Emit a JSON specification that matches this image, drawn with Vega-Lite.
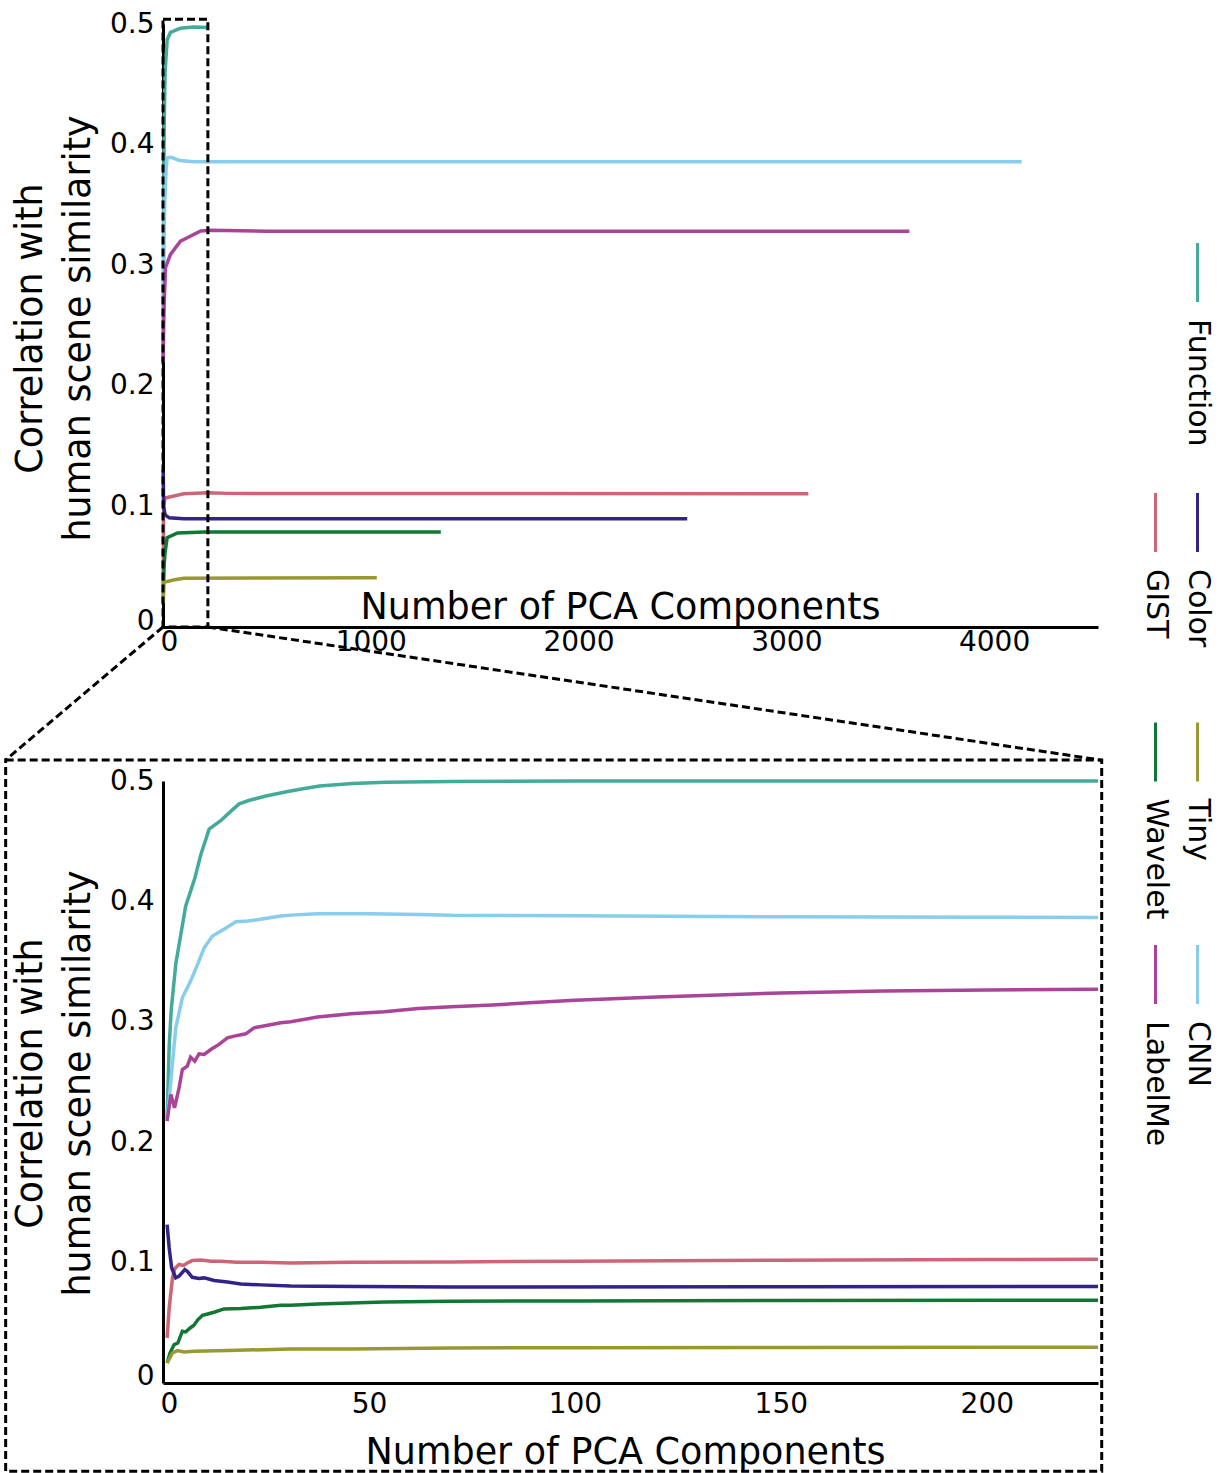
{
  "$schema": "https://vega.github.io/schema/vega-lite/v6.json",
  "autosize": {"type": "pad"},
  "padding": {"left": 4, "top": 10, "right": 12, "bottom": 0},
  "background": "white",
  "config": {
    "font": "DejaVu Sans",
    "view": {"stroke": null},
    "axis": {
      "domainColor": "black", "domainWidth": 3, "ticks": false, "grid": false,
      "labelFontSize": 28, "labelColor": "black", "labelFont": "DejaVu Sans",
      "labelFlush": false, "labelOverlap": false,
      "titleFontSize": 36.5, "titleFontWeight": "normal", "titleColor": "black", "titleFont": "DejaVu Sans"
    }
  },
  "datasets": {
    "top": [
      {"s":"Function","x":1,"y":0.22},{"s":"Function","x":3,"y":0.35},{"s":"Function","x":6,"y":0.42},{"s":"Function","x":10,"y":0.46},{"s":"Function","x":20,"y":0.487},{"s":"Function","x":36,"y":0.493},{"s":"Function","x":84,"y":0.4965},{"s":"Function","x":147,"y":0.4975},{"s":"Function","x":216,"y":0.497},
      {"s":"CNN","x":1,"y":0.22},{"s":"CNN","x":3,"y":0.30},{"s":"CNN","x":8,"y":0.35},{"s":"CNN","x":15,"y":0.38},{"s":"CNN","x":20,"y":0.389},{"s":"CNN","x":40,"y":0.3895},{"s":"CNN","x":80,"y":0.3868},{"s":"CNN","x":150,"y":0.3858},{"s":"CNN","x":4133,"y":0.3858},
      {"s":"LabelMe","x":1,"y":0.22},{"s":"LabelMe","x":3,"y":0.25},{"s":"LabelMe","x":6,"y":0.27},{"s":"LabelMe","x":12,"y":0.298},{"s":"LabelMe","x":36,"y":0.309},{"s":"LabelMe","x":84,"y":0.320},{"s":"LabelMe","x":117,"y":0.3228},{"s":"LabelMe","x":181,"y":0.3284},{"s":"LabelMe","x":229,"y":0.329},{"s":"LabelMe","x":500,"y":0.3282},{"s":"LabelMe","x":3592,"y":0.3281},
      {"s":"GIST","x":1,"y":0.035},{"s":"GIST","x":3,"y":0.1},{"s":"GIST","x":10,"y":0.107},{"s":"GIST","x":100,"y":0.1105},{"s":"GIST","x":215,"y":0.1114},{"s":"GIST","x":310,"y":0.1108},{"s":"GIST","x":3106,"y":0.1105},
      {"s":"Color","x":1,"y":0.13},{"s":"Color","x":3,"y":0.10},{"s":"Color","x":10,"y":0.093},{"s":"Color","x":30,"y":0.0905},{"s":"Color","x":100,"y":0.0898},{"s":"Color","x":2523,"y":0.0898},
      {"s":"Wavelet","x":1,"y":0.02},{"s":"Wavelet","x":5,"y":0.05},{"s":"Wavelet","x":10,"y":0.062},{"s":"Wavelet","x":20,"y":0.074},{"s":"Wavelet","x":70,"y":0.078},{"s":"Wavelet","x":200,"y":0.0788},{"s":"Wavelet","x":1337,"y":0.0788},
      {"s":"Tiny","x":1,"y":0.02},{"s":"Tiny","x":3,"y":0.037},{"s":"Tiny","x":50,"y":0.039},{"s":"Tiny","x":100,"y":0.0405},{"s":"Tiny","x":1029,"y":0.0409}
    ],
    "bottom": [
      {"s":"Function","x":1,"y":0.22},{"s":"Function","x":1.5,"y":0.28},{"s":"Function","x":2,"y":0.31},{"s":"Function","x":3.1,"y":0.348},{"s":"Function","x":5.5,"y":0.396},{"s":"Function","x":7.7,"y":0.419},{"s":"Function","x":9.2,"y":0.439},{"s":"Function","x":11.2,"y":0.46},{"s":"Function","x":14,"y":0.467},{"s":"Function","x":16.5,"y":0.475},{"s":"Function","x":18.5,"y":0.481},{"s":"Function","x":21,"y":0.484},{"s":"Function","x":25,"y":0.4875},{"s":"Function","x":30,"y":0.491},{"s":"Function","x":34,"y":0.4936},{"s":"Function","x":38,"y":0.4958},{"s":"Function","x":46,"y":0.498},{"s":"Function","x":54,"y":0.4989},{"s":"Function","x":70,"y":0.4996},{"s":"Function","x":100,"y":0.4999},{"s":"Function","x":150,"y":0.5},{"s":"Function","x":227,"y":0.5},
      {"s":"CNN","x":1,"y":0.2175},{"s":"CNN","x":1.9,"y":0.2507},{"s":"CNN","x":3.1,"y":0.295},{"s":"CNN","x":4.7,"y":0.32},{"s":"CNN","x":6.7,"y":0.3338},{"s":"CNN","x":8.4,"y":0.3477},{"s":"CNN","x":10,"y":0.3615},{"s":"CNN","x":12,"y":0.3712},{"s":"CNN","x":14.8,"y":0.3768},{"s":"CNN","x":17.7,"y":0.3831},{"s":"CNN","x":20.5,"y":0.3837},{"s":"CNN","x":23.7,"y":0.3851},{"s":"CNN","x":28.6,"y":0.3878},{"s":"CNN","x":31,"y":0.3886},{"s":"CNN","x":37.5,"y":0.3897},{"s":"CNN","x":50,"y":0.3897},{"s":"CNN","x":62,"y":0.3892},{"s":"CNN","x":70,"y":0.3884},{"s":"CNN","x":100,"y":0.388},{"s":"CNN","x":150,"y":0.3872},{"s":"CNN","x":200,"y":0.3868},{"s":"CNN","x":227,"y":0.3866},
      {"s":"LabelMe","x":1,"y":0.2175},{"s":"LabelMe","x":1.9,"y":0.2396},{"s":"LabelMe","x":2.8,"y":0.2285},{"s":"LabelMe","x":3.9,"y":0.2451},{"s":"LabelMe","x":4.7,"y":0.2604},{"s":"LabelMe","x":5.9,"y":0.2632},{"s":"LabelMe","x":6.7,"y":0.2707},{"s":"LabelMe","x":7.7,"y":0.2673},{"s":"LabelMe","x":8.75,"y":0.2734},{"s":"LabelMe","x":10,"y":0.2729},{"s":"LabelMe","x":11.6,"y":0.277},{"s":"LabelMe","x":13.6,"y":0.2812},{"s":"LabelMe","x":15.65,"y":0.2867},{"s":"LabelMe","x":17.3,"y":0.2881},{"s":"LabelMe","x":20.1,"y":0.29},{"s":"LabelMe","x":22.1,"y":0.295},{"s":"LabelMe","x":25.4,"y":0.2972},{"s":"LabelMe","x":28.6,"y":0.2992},{"s":"LabelMe","x":31,"y":0.3},{"s":"LabelMe","x":37.5,"y":0.3039},{"s":"LabelMe","x":45.6,"y":0.3066},{"s":"LabelMe","x":53.8,"y":0.3083},{"s":"LabelMe","x":61.9,"y":0.3111},{"s":"LabelMe","x":70,"y":0.3125},{"s":"LabelMe","x":80,"y":0.314},{"s":"LabelMe","x":90,"y":0.316},{"s":"LabelMe","x":100,"y":0.318},{"s":"LabelMe","x":120,"y":0.3205},{"s":"LabelMe","x":150,"y":0.324},{"s":"LabelMe","x":175,"y":0.3255},{"s":"LabelMe","x":200,"y":0.3265},{"s":"LabelMe","x":227,"y":0.327},
      {"s":"GIST","x":1,"y":0.0374},{"s":"GIST","x":1.5,"y":0.0623},{"s":"GIST","x":2.3,"y":0.0873},{"s":"GIST","x":2.85,"y":0.095},{"s":"GIST","x":3.9,"y":0.0984},{"s":"GIST","x":5,"y":0.0976},{"s":"GIST","x":5.9,"y":0.0997},{"s":"GIST","x":7.1,"y":0.1017},{"s":"GIST","x":9.2,"y":0.1022},{"s":"GIST","x":11.6,"y":0.1011},{"s":"GIST","x":14,"y":0.1011},{"s":"GIST","x":18,"y":0.1003},{"s":"GIST","x":23.7,"y":0.1003},{"s":"GIST","x":31,"y":0.0997},{"s":"GIST","x":45.6,"y":0.1003},{"s":"GIST","x":70,"y":0.1005},{"s":"GIST","x":100,"y":0.1012},{"s":"GIST","x":150,"y":0.102},{"s":"GIST","x":200,"y":0.1025},{"s":"GIST","x":227,"y":0.1027},
      {"s":"Color","x":1,"y":0.1316},{"s":"Color","x":1.5,"y":0.1122},{"s":"Color","x":2.1,"y":0.0956},{"s":"Color","x":3.1,"y":0.0873},{"s":"Color","x":3.9,"y":0.0887},{"s":"Color","x":5.3,"y":0.0942},{"s":"Color","x":5.9,"y":0.0928},{"s":"Color","x":7.1,"y":0.0878},{"s":"Color","x":8.75,"y":0.0868},{"s":"Color","x":10,"y":0.0873},{"s":"Color","x":12.4,"y":0.0851},{"s":"Color","x":15.65,"y":0.0839},{"s":"Color","x":18.9,"y":0.0823},{"s":"Color","x":23.7,"y":0.0815},{"s":"Color","x":31,"y":0.0806},{"s":"Color","x":37.5,"y":0.0803},{"s":"Color","x":70,"y":0.0798},{"s":"Color","x":150,"y":0.0799},{"s":"Color","x":227,"y":0.0801},
      {"s":"Wavelet","x":1,"y":0.0166},{"s":"Wavelet","x":1.7,"y":0.0249},{"s":"Wavelet","x":2.7,"y":0.0319},{"s":"Wavelet","x":3.6,"y":0.0332},{"s":"Wavelet","x":4.7,"y":0.043},{"s":"Wavelet","x":5.5,"y":0.0424},{"s":"Wavelet","x":6.6,"y":0.0457},{"s":"Wavelet","x":7.5,"y":0.048},{"s":"Wavelet","x":8.5,"y":0.0527},{"s":"Wavelet","x":9.6,"y":0.0563},{"s":"Wavelet","x":10.8,"y":0.0573},{"s":"Wavelet","x":12.4,"y":0.0588},{"s":"Wavelet","x":14.8,"y":0.0615},{"s":"Wavelet","x":18.9,"y":0.0618},{"s":"Wavelet","x":23.7,"y":0.0629},{"s":"Wavelet","x":28.6,"y":0.0646},{"s":"Wavelet","x":31,"y":0.0646},{"s":"Wavelet","x":37.5,"y":0.0657},{"s":"Wavelet","x":53.8,"y":0.0673},{"s":"Wavelet","x":70,"y":0.0679},{"s":"Wavelet","x":100,"y":0.0682},{"s":"Wavelet","x":150,"y":0.0685},{"s":"Wavelet","x":227,"y":0.0687},
      {"s":"Tiny","x":1,"y":0.0166},{"s":"Tiny","x":2.3,"y":0.0249},{"s":"Tiny","x":3.5,"y":0.0269},{"s":"Tiny","x":5.1,"y":0.0258},{"s":"Tiny","x":7.5,"y":0.0263},{"s":"Tiny","x":15.65,"y":0.0269},{"s":"Tiny","x":31,"y":0.0283},{"s":"Tiny","x":45.6,"y":0.0283},{"s":"Tiny","x":70,"y":0.0291},{"s":"Tiny","x":100,"y":0.0293},{"s":"Tiny","x":150,"y":0.0295},{"s":"Tiny","x":227,"y":0.0297}
    ],
    "legend": [
      {"s":"Function","col":1,"slot":0},
      {"s":"Color","col":1,"slot":1},{"s":"GIST","col":0,"slot":1},
      {"s":"Tiny","col":1,"slot":2},{"s":"Wavelet","col":0,"slot":2},
      {"s":"CNN","col":1,"slot":3},{"s":"LabelMe","col":0,"slot":3}
    ]
  },
  "bounds": "flush",
  "spacing": 154,
  "vconcat": [
    {
      "width": 935, "height": 603,
      "resolve": {"scale": {"x": "independent", "y": "independent"}, "axis": {"x": "independent", "y": "independent"}},
      "layer": [
        {
          "layer": [
            {
              "data": {"name": "top"},
              "mark": {"type": "line", "strokeWidth": 3.5, "clip": false},
              "encoding": {
                "x": {"field": "x", "type": "quantitative",
                  "scale": {"domain": [0, 4500], "nice": false, "zero": false},
                  "axis": {"values": [0, 1000, 2000, 3000, 4000], "format": "d", "title": "Number of PCA Components",
                    "labelPadding": 1,
                    "labelOffset": {"condition": {"test": "datum.value === 0", "value": 6}, "value": 0},
                    "titleX": 457, "titleY": -9, "titleAlign": "center", "titleBaseline": "alphabetic"}},
                "y": {"field": "y", "type": "quantitative",
                  "scale": {"domain": [0, 0.5], "nice": false, "zero": false},
                  "axis": {"values": [0, 0.1, 0.2, 0.3, 0.4, 0.5], "labelPadding": 9,
                    "labelExpr": "datum.value === 0 ? '0' : format(datum.value, '.1f')",
                    "labelOffset": {"condition": {"test": "datum.value === 0", "value": -6}, "value": 0},
                    "title": ["Correlation with", "human scene similarity"], "titleLineHeight": 48,
                    "titleX": -133, "titleY": 304, "titleAngle": -90, "titleAlign": "center", "titleBaseline": "middle"}},
                "color": {"field": "s", "type": "nominal",
                  "scale": {"domain": ["Function", "Color", "GIST", "Tiny", "Wavelet", "CNN", "LabelMe"],
                    "range": ["#44AA99", "#332288", "#CC6677", "#999933", "#117733", "#88CCEE", "#AA4499"]},
                  "legend": null}
              }
            },
            {
              "data": {"values": [{"x0": 0, "x1": 216, "y0": 0, "y1": 0.504}]},
              "mark": {"type": "rect", "fill": null, "stroke": "black", "strokeWidth": 3, "strokeDash": [8, 4], "clip": false},
              "encoding": {
                "x": {"field": "x0", "type": "quantitative"},
                "x2": {"field": "x1"},
                "y": {"field": "y0", "type": "quantitative"},
                "y2": {"field": "y1"}
              }
            },
            {
              "data": {"values": [{"xa": 0, "ya": 0, "xb": -758, "yb": -0.1103}, {"xa": 216, "ya": 0, "xb": 4512, "yb": -0.1103}]},
              "mark": {"type": "rule", "stroke": "black", "strokeWidth": 3, "strokeDash": [8, 4], "clip": false},
              "encoding": {
                "x": {"field": "xa", "type": "quantitative"},
                "x2": {"field": "xb"},
                "y": {"field": "ya", "type": "quantitative"},
                "y2": {"field": "yb"}
              }
            }
          ]
        },
        {
          "data": {"name": "legend"},
          "encoding": {
            "x": {"field": "col", "type": "quantitative", "scale": {"domain": [-23.64, -1.37], "nice": false, "zero": false}, "axis": null},
            "y": {"field": "slot", "type": "quantitative", "scale": {"type": "pow", "exponent": 0.94, "domain": [-0.869, 1.579], "reverse": true, "nice": false, "zero": false}, "axis": null},
            "color": {"field": "s", "type": "nominal",
              "scale": {"domain": ["Function", "Color", "GIST", "Tiny", "Wavelet", "CNN", "LabelMe"],
                "range": ["#44AA99", "#332288", "#CC6677", "#999933", "#117733", "#88CCEE", "#AA4499"]},
              "legend": null}
          },
          "layer": [
            {"mark": {"type": "rule", "strokeWidth": 3, "y2Offset": 59, "clip": false}, "encoding": {"y2": {"field": "slot"}}},
            {"mark": {"type": "text", "angle": 90, "align": "left", "baseline": "middle", "yOffset": 76, "fontSize": 30, "font": "DejaVu Sans", "clip": false},
              "encoding": {"text": {"field": "s"}, "color": {"value": "black"}}}
          ]
        }
      ]
    },
    {
      "width": 935, "height": 602,
      "layer": [
        {
          "data": {"name": "bottom"},
          "mark": {"type": "line", "strokeWidth": 3.5, "clip": false},
          "encoding": {
            "x": {"field": "x", "type": "quantitative",
              "scale": {"domain": [0, 227], "nice": false, "zero": false},
              "axis": {"values": [0, 50, 100, 150, 200], "format": "d", "title": "Number of PCA Components",
                "labelPadding": 7,
                "labelOffset": {"condition": {"test": "datum.value === 0", "value": 6}, "value": 0},
                "titleX": 462, "titleY": 80, "titleAlign": "center", "titleBaseline": "alphabetic"}},
            "y": {"field": "y", "type": "quantitative",
              "scale": {"domain": [0, 0.5], "nice": false, "zero": false},
              "axis": {"values": [0, 0.1, 0.2, 0.3, 0.4, 0.5], "labelPadding": 9,
                "labelExpr": "datum.value === 0 ? '0' : format(datum.value, '.1f')",
                "labelOffset": {"condition": {"test": "datum.value === 0", "value": -7}, "value": 0},
                "title": ["Correlation with", "human scene similarity"], "titleLineHeight": 48,
                "titleX": -133, "titleY": 302, "titleAngle": -90, "titleAlign": "center", "titleBaseline": "middle"}},
            "color": {"field": "s", "type": "nominal",
              "scale": {"domain": ["Function", "Color", "GIST", "Tiny", "Wavelet", "CNN", "LabelMe"],
                "range": ["#44AA99", "#332288", "#CC6677", "#999933", "#117733", "#88CCEE", "#AA4499"]},
              "legend": null}
          }
        },
        {
          "data": {"values": [{"x0": -38.2, "x1": 227.9, "y0": -0.0734, "y1": 0.5175}]},
          "mark": {"type": "rect", "fill": null, "stroke": "black", "strokeWidth": 3, "strokeDash": [8, 4], "clip": false},
          "encoding": {
            "x": {"field": "x0", "type": "quantitative"},
            "x2": {"field": "x1"},
            "y": {"field": "y0", "type": "quantitative"},
            "y2": {"field": "y1"}
          }
        }
      ]
    }
  ]
}
